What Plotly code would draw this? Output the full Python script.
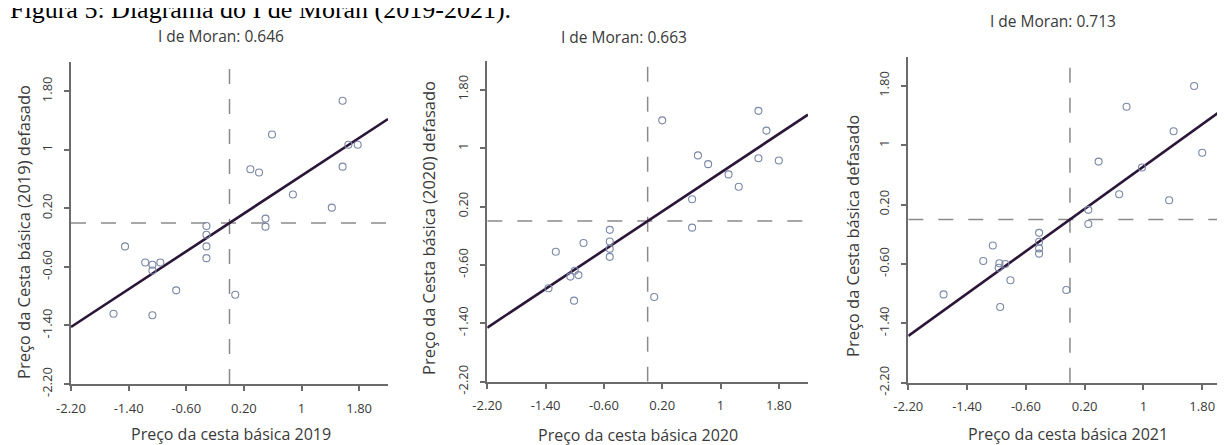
import plotly.graph_objects as go

# ---------------- data ----------------
moran_i = [0.646, 0.663, 0.713]
panel_titles = ["I de Moran: 0.646", "I de Moran: 0.663", "I de Moran: 0.713"]
x_titles = ["Preço da cesta básica 2019", "Preço da cesta básica 2020", "Preço da cesta básica 2021"]
y_titles = ["Preço da Cesta básica (2019) defasado", "Preço da Cesta básica (2020) defasado",
            "Preço da Cesta básica defasado"]
fig_title = "Figura 5: Diagrama do I de Moran (2019-2021)."

x2019 = [1.57, 0.59, 1.65, 1.78, 0.29, 0.41, 1.57, 0.88, 1.42, 0.50, 0.50, -0.32, -0.32, -0.32,
         -0.32, -1.45, -1.17, -1.07, -0.96, -1.07, -0.74, 0.08, -1.61, -1.07]
y2019 = [1.67, 1.21, 1.07, 1.07, 0.735, 0.69, 0.77, 0.39, 0.21, 0.06, -0.05, -0.04, -0.16, -0.32,
         -0.48, -0.32, -0.54, -0.57, -0.54, -0.65, -0.92, -0.98, -1.24, -1.26]

x2020 = [1.52, 0.20, 1.63, 0.69, 0.83, 1.52, 1.80, 1.11, 1.25, 0.61, 0.61, -0.52, -0.52, -0.52,
         -0.52, -0.88, -1.26, -1.00, -1.06, -0.95, -1.36, -1.01, 0.09]
y2020 = [1.51, 1.38, 1.24, 0.90, 0.78, 0.86, 0.83, 0.64, 0.47, 0.30, -0.09, -0.12, -0.28, -0.38,
         -0.49, -0.30, -0.42, -0.68, -0.76, -0.74, -0.92, -1.09, -1.04]

x2021 = [1.69, 0.77, 1.41, 1.80, 0.39, 0.98, 0.67, 1.35, 0.25, 0.25, -0.42, -0.42, -0.42, -0.42,
         -1.05, -1.18, -0.96, -0.88, -0.97, -0.81, -0.05, -1.72, -0.95]
y2021 = [1.80, 1.52, 1.19, 0.90, 0.78, 0.70, 0.34, 0.26, 0.13, -0.06, -0.18, -0.30, -0.39, -0.46,
         -0.35, -0.56, -0.59, -0.60, -0.65, -0.82, -0.95, -1.01, -1.18]

xs = [x2019, x2020, x2021]
ys = [y2019, y2020, y2021]

tick_vals = [-2.2, -1.4, -0.6, 0.2, 1.0, 1.8]
tick_text = ["-2.20", "-1.40", "-0.60", "0.20", "1", "1.80"]

# ---------------- layout helpers (page pixels -> paper) ----------------
PAGE_OFF = 8                      # default body margin of the html page
W, H = 1225 - PAGE_OFF, 445 - PAGE_OFF
def px(v):
    return (v - PAGE_OFF) / W
def py(v):
    return 1 - (v - PAGE_OFF) / H

# plot boxes: (left, right, top, bottom) in page pixels
boxes = [(71, 388, 62, 384), (487.3, 808, 60.5, 381.7), (908.3, 1225, 57, 382.7)]
x_ranges = [[-2.2, 2.2], [-2.2, 2.2], [-2.2, 2.11]]
y_ranges = [[-2.2, 2.2], [-2.2, 2.2], [-2.2, 2.19]]

title_pos = [(221, 36), (624, 37), (1053, 21)]
xtitle_pos = [(231, 434), (638, 435), (1068, 434)]
ytitle_pos = [(23, 232), (428, 228), (852, 236)]

axis_col = "#6b6b6b"
text_col = "#3a3a3a"
font_fam = "Open Sans, DejaVu Sans, sans-serif"

fig = go.Figure()
shapes = []
annotations = []
layout_axes = {}

for i in range(3):
    xa = "x" if i == 0 else f"x{i+1}"
    ya = "y" if i == 0 else f"y{i+1}"
    xkey = "xaxis" if i == 0 else f"xaxis{i+1}"
    ykey = "yaxis" if i == 0 else f"yaxis{i+1}"
    l, r, t, b = boxes[i]

    # regression line (slope = Moran's I)
    xr = x_ranges[i]
    fig.add_trace(go.Scatter(x=[xr[0], xr[1]], y=[moran_i[i] * xr[0], moran_i[i] * xr[1]],
                             mode="lines", line=dict(color="#2b1638", width=2.6),
                             xaxis=xa, yaxis=ya, showlegend=False, hoverinfo="skip"))
    # points
    fig.add_trace(go.Scatter(x=xs[i], y=ys[i], mode="markers",
                             marker=dict(symbol="circle-open", size=7,
                                         color="#7b87a5", line=dict(width=1.1, color="#7b87a5")),
                             xaxis=xa, yaxis=ya, showlegend=False))

    # dashed mean lines
    shapes.append(dict(type="line", xref=xa, yref=ya, x0=0, x1=0, y0=y_ranges[i][0], y1=y_ranges[i][1],
                       line=dict(color="#8a8a8a", width=1.5, dash="longdash"), layer="below"))
    shapes.append(dict(type="line", xref=xa, yref=ya, x0=x_ranges[i][0], x1=x_ranges[i][1], y0=0, y1=0,
                       line=dict(color="#8a8a8a", width=1.5, dash="longdash"), layer="below"))

    common = dict(showline=True, linecolor=axis_col, linewidth=2, ticks="outside", ticklen=5,
                  tickwidth=1.5, tickcolor=axis_col, showgrid=False, zeroline=False,
                  automargin=False,
                  tickvals=tick_vals, ticktext=tick_text,
                  tickfont=dict(family=font_fam, size=13, color=text_col))
    layout_axes[xkey] = dict(domain=[px(l), min(px(r), 1.0)], range=x_ranges[i], anchor=ya,
                             ticklabelstandoff=6, **common)
    layout_axes[ykey] = dict(domain=[py(b), py(t)], range=y_ranges[i], anchor=xa,
                             tickangle=-90, ticklabelstandoff=7, **common)

    tx, ty = title_pos[i]
    annotations.append(dict(text=panel_titles[i], x=px(tx), y=py(ty), xref="paper", yref="paper",
                            xanchor="center", yanchor="middle", showarrow=False,
                            font=dict(family=font_fam, size=15.5, color=text_col)))
    tx, ty = xtitle_pos[i]
    annotations.append(dict(text=x_titles[i], x=px(tx), y=py(ty), xref="paper", yref="paper",
                            xanchor="center", yanchor="middle", showarrow=False,
                            font=dict(family=font_fam, size=16, color=text_col)))
    tx, ty = ytitle_pos[i]
    annotations.append(dict(text=y_titles[i], x=px(tx), y=py(ty), xref="paper", yref="paper",
                            xanchor="center", yanchor="middle", showarrow=False, textangle=-90,
                            font=dict(family=font_fam, size=16.5, color=text_col)))

annotations.append(dict(text=fig_title, x=0, y=py(10), xref="paper", yref="paper",
                        xanchor="left", yanchor="middle", showarrow=False,
                        font=dict(family="Liberation Serif, Times New Roman, serif", size=26, color="#000")))

fig.update_layout(width=W, height=H, margin=dict(l=0, r=0, t=0, b=0, autoexpand=False),
                  plot_bgcolor="white", paper_bgcolor="white",
                  shapes=shapes, annotations=annotations, **layout_axes)

fig.write_html("out.html")
